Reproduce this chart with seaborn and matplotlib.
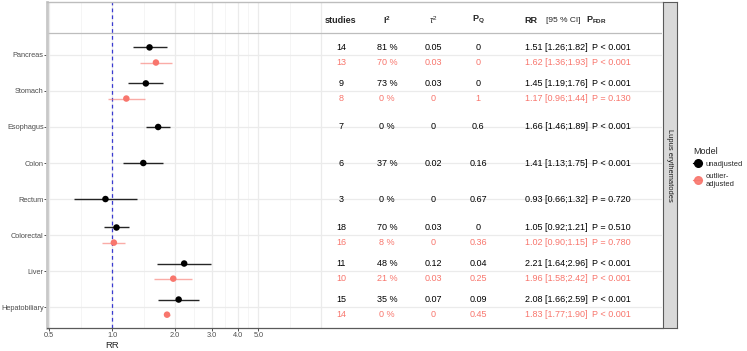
import matplotlib
matplotlib.use("Agg")
import matplotlib.pyplot as plt
import matplotlib.transforms as mtransforms
from matplotlib.lines import Line2D
import seaborn as sns
import pandas as pd
import numpy as np

sns.set_style("white")
plt.rcParams['font.family'] = ['Liberation Sans', 'DejaVu Sans']
plt.rcParams['mathtext.fontset'] = 'custom'
plt.rcParams['mathtext.rm'] = 'Liberation Sans'
plt.rcParams['mathtext.it'] = 'Liberation Sans:italic'
plt.rcParams['mathtext.bf'] = 'Liberation Sans:bold'

categories = ["Pancreas", "Stomach", "Esophagus", "Colon", "Rectum",
              "Colorectal", "Liver", "Hepatobiliary"]
cancer = ["Pancreas", "Pancreas", "Stomach", "Stomach", "Esophagus", "Colon",
          "Rectum", "Colorectal", "Colorectal", "Liver", "Liver",
          "Hepatobiliary", "Hepatobiliary"]
model = ["unadjusted", "outlier-adjusted", "unadjusted", "outlier-adjusted",
         "unadjusted", "unadjusted", "unadjusted", "unadjusted",
         "outlier-adjusted", "unadjusted", "outlier-adjusted", "unadjusted",
         "outlier-adjusted"]
rr = [1.51, 1.62, 1.45, 1.17, 1.66, 1.41, 0.93, 1.05, 1.02, 2.21, 1.96, 2.08, 1.83]
ci_lo = [1.26, 1.36, 1.19, 0.96, 1.46, 1.13, 0.66, 0.92, 0.90, 1.64, 1.58, 1.66, 1.77]
ci_hi = [1.82, 1.93, 1.76, 1.44, 1.89, 1.75, 1.32, 1.21, 1.15, 2.96, 2.42, 2.59, 1.90]
studies = [14, 13, 9, 8, 7, 6, 3, 18, 16, 11, 10, 15, 14]
i2 = [81, 70, 73, 0, 0, 37, 0, 70, 8, 48, 21, 35, 0]
tau2 = ["0.05", "0.03", "0.03", "0", "0", "0.02", "0", "0.03", "0", "0.12",
        "0.03", "0.07", "0"]
p_q = ["0", "0", "0", "1", "0.6", "0.16", "0.67", "0", "0.36", "0.04", "0.25",
       "0.09", "0.45"]
p_fdr = ["P < 0.001", "P < 0.001", "P < 0.001", "P = 0.130", "P < 0.001",
         "P < 0.001", "P = 0.720", "P = 0.510", "P = 0.780", "P < 0.001",
         "P < 0.001", "P < 0.001", "P < 0.001"]
x_breaks = [0.5, 1, 2, 3, 4, 5]
x_labels = ["0.5", "1.0", "2.0", "3.0", "4.0", "5.0"]

df = pd.DataFrame({"cancer": cancer, "Model": model, "rr": rr,
                   "lo": ci_lo, "hi": ci_hi, "studies": studies, "i2": i2,
                   "tau2": tau2, "pq": p_q, "pfdr": p_fdr})

# dodge rows like ggplot position_dodge
n_models = df.groupby("cancer")["Model"].transform("count")
base = df["cancer"].map({c: i for i, c in enumerate(categories)})
off = np.where(n_models > 1, np.where(df["Model"] == "unadjusted", -0.21, 0.21), 0.0)
df["y"] = base + off

colors = {"unadjusted": "black", "outlier-adjusted": "#F8766D"}
line_alpha = {"unadjusted": 0.85, "outlier-adjusted": 0.6}

fig = plt.figure(figsize=(7.47, 3.51), dpi=100)
ax = fig.add_axes([47 / 747, 1 - 328 / 351, 615 / 747, 326 / 351])

ax.set_xscale("log")
ax.set_xlim(0.489, 423)
ax.set_ylim(7.58, -1.47)

# grid lines (only in the forest part)
majors = [0.5, 1, 2, 3, 4, 5, 10]
minors = [np.sqrt(a * b) for a, b in zip(majors[:-1], majors[1:])]
for v in majors:
    ax.axvline(v, color="#EBEBEB", lw=0.9, zorder=0)
for v in minors:
    ax.axvline(v, color="#F2F2F2", lw=0.5, zorder=0)
for i in range(len(categories)):
    ax.axhline(i, color="#EBEBEB", lw=0.9, zorder=0)

ax.axvline(1, color="#3A3AD0", lw=0.9, ls=(0, (3, 2.5)), zorder=1)

for m, sub in df.groupby("Model"):
    ax.hlines(sub["y"], sub["lo"], sub["hi"], color=colors[m],
              alpha=line_alpha[m], lw=1.0, zorder=2)
sns.scatterplot(data=df, x="rr", y="y", hue="Model", palette=colors, s=22,
                edgecolor="none", legend=False, ax=ax, zorder=3)

ax.set_yticks(range(len(categories)))
ax.set_yticklabels(categories)
ax.set_xticks(x_breaks)
ax.set_xticklabels(x_labels)
ax.xaxis.set_minor_locator(matplotlib.ticker.NullLocator())
ax.tick_params(axis="both", labelsize=5.3, labelcolor="#4D4D4D", color="#333333",
               length=2, width=0.6, left=True, bottom=True, pad=1.2)
ax.tick_params(axis="y", pad=0.4)
ax.set_xlabel("")
ax.set_ylabel("")
ax.text(1, 1 - 345 / 351, "RR",
        transform=mtransforms.blended_transform_factory(ax.transData, fig.transFigure),
        ha="center", va="center", fontsize=6.8)

ax.spines["right"].set_visible(False)
ax.spines["left"].set_color("#C8C8C8")
ax.spines["left"].set_linewidth(2)
ax.spines["top"].set_color("#BDBDBD")
ax.spines["top"].set_linewidth(1)
ax.spines["bottom"].set_color("#5A5A5A")
ax.spines["bottom"].set_linewidth(0.9)

# table header
tr = mtransforms.blended_transform_factory(ax.transAxes, ax.transData)
hy = -0.97
hdr = dict(ha="center", va="center", fontsize=6.5, transform=tr)
ax.text(0.478, hy, "studies", fontweight="bold", **hdr)
ax.text(0.553, hy, r"$\mathbf{I}^\mathbf{2}$", **hdr)
ax.text(0.628, hy, r"$\tau^2$", **hdr)
ax.text(0.701, hy, r"$\mathbf{P_Q}$", **hdr)
ax.text(0.777, hy, "RR", fontweight="bold", ha="left", va="center", fontsize=6.5, transform=tr)
ax.text(0.812, hy, "[95 % CI]", ha="left", va="center", fontsize=6.0, transform=tr)
ax.text(0.893, hy, r"$\mathbf{P_{FDR}}$", **hdr)
ax.axhline(-0.61, color="#BDBDBD", lw=0.9)

# table rows
for _, r in df.iterrows():
    c = colors[r["Model"]]
    kw = dict(va="center", fontsize=6.5, color=c, transform=tr)
    ax.text(0.478, r["y"], str(r["studies"]), ha="center", **kw)
    ax.text(0.553, r["y"], f"{r['i2']} %", ha="center", **kw)
    ax.text(0.628, r["y"], r["tau2"], ha="center", **kw)
    ax.text(0.701, r["y"], r["pq"], ha="center", **kw)
    ax.text(0.777, r["y"], f"{r['rr']:.2f} [{r['lo']:.2f};{r['hi']:.2f}]", ha="left", **kw)
    ax.text(0.8855, r["y"], r["pfdr"], ha="left", **kw)

# facet strip on the right
strip = fig.add_axes([663 / 747, 1 - 328 / 351, 14 / 747, 326 / 351])
strip.set_facecolor("#D9D9D9")
strip.set_xticks([])
strip.set_yticks([])
for s in strip.spines.values():
    s.set_color("#5A5A5A")
    s.set_linewidth(0.8)
strip.text(0.5, 0.5, "Lupus erythematodes", rotation=-90, ha="center", va="center",
           fontsize=5.4, color="#1A1A1A", transform=strip.transAxes)

# legend
handles = [Line2D([0], [0], color=colors[m], marker="o", markersize=5.5, lw=1.0,
                  alpha=1.0 if m == "unadjusted" else 0.9)
           for m in ["unadjusted", "outlier-adjusted"]]
leg = fig.legend(handles, ["unadjusted", "outlier-\nadjusted"], title="Model",
                 loc="upper left", bbox_to_anchor=(688 / 747, 1 - 142 / 351),
                 frameon=False, fontsize=5.4, title_fontsize=6.5,
                 handlelength=1.2, handletextpad=0.4, labelspacing=0.6,
                 borderpad=0.2)
leg._legend_box.align = "left"

fig.savefig("out.png", dpi=100)
